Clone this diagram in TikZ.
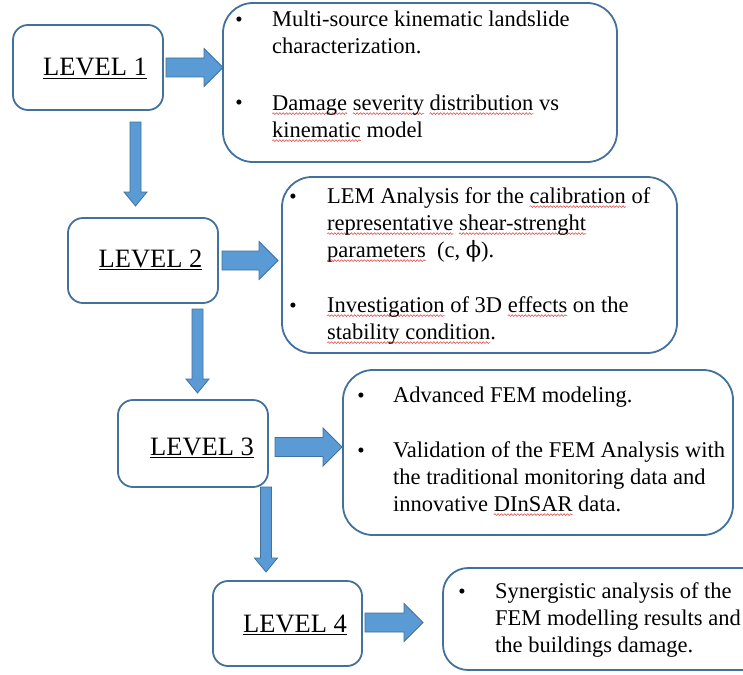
\documentclass[tikz,border=0pt]{standalone}
\usepackage{fontspec}
\setmainfont{Liberation Serif}
\newfontfamily\phifont{DejaVu Serif}
\usetikzlibrary{calc,decorations.pathmorphing}
\definecolor{outl}{HTML}{41719C}
\definecolor{afill}{HTML}{5B9BD5}
\definecolor{sqred}{HTML}{E04848}
\newsavebox\sqbox
\newdimen\sqd
\newcommand\sqw[1]{\sbox\sqbox{#1}\sqd=\wd\sqbox\rlap{\tikz[overlay,x=1pt,y=1pt]\draw[sqred, line width=0.55pt, decorate, decoration={snake, amplitude=0.9pt, segment length=3.3pt}] (0,-3.6) -- (\the\sqd,-3.6);}\usebox\sqbox}
\newcommand\ulv[1]{\sbox\sqbox{#1}\sqd=\wd\sqbox\rlap{\rule[-3.2pt]{\sqd}{1.3pt}}\usebox\sqbox}
\newcommand\harr[2]{%
  \draw[barrow] ($(#1)+(0,-9.5)$) -- ($(#2)+(-19,-9.5)$) -- ($(#2)+(-19,-19)$) -- (#2)
    -- ($(#2)+(-19,19)$) -- ($(#2)+(-19,9.5)$) -- ($(#1)+(0,9.5)$) -- cycle;}
\newcommand\varr[2]{%
  \draw[barrow] ($(#1)+(-5.5,0)$) -- ($(#2)+(-5.5,-14)$) -- ($(#2)+(-11.5,-14)$) -- (#2)
    -- ($(#2)+(11.5,-14)$) -- ($(#2)+(5.5,-14)$) -- ($(#1)+(5.5,0)$) -- cycle;}
\tikzset{
  lvl/.style={draw=outl, line width=1.8pt, rounded corners=15pt, inner sep=0pt},
  big/.style={draw=outl, line width=1.8pt, rounded corners=30pt, inner sep=0pt},
  barrow/.style={fill=afill, draw=outl, line width=0.8pt, line join=miter},
  lvltext/.style={font=\fontsize{26.5}{30}\selectfont, anchor=base, inner sep=0pt},
  body/.style={font=\fontsize{22.5}{27}\selectfont, align=left, anchor=base west, inner sep=0pt},
  bul/.style={font=\fontsize{21}{21}\selectfont, anchor=base, inner sep=0pt}
}
\begin{document}
\begin{tikzpicture}[x=1pt, y=-1pt]
\useasboundingbox (0,0) rectangle (743,674);
\fill[white] (0,0) rectangle (743,674);
\clip (0,0) rectangle (743,674);

% level boxes
\node[lvl, minimum width=150pt, minimum height=85pt] (L1) at (88,67.5) {};
\node[lvl, minimum width=150pt, minimum height=85pt] (L2) at (143,260.5) {};
\node[lvl, minimum width=150pt, minimum height=87pt] (L3) at (193,443.5) {};
\node[lvl, minimum width=149pt, minimum height=85pt] (L4) at (287.5,623.5) {};
\node[lvltext] (t1) at (95,76) {\ulv{LEVEL 1}};
\node[lvltext] (t2) at (150.5,267) {\ulv{LEVEL 2}};
\node[lvltext] (t3) at (202,455) {\ulv{LEVEL 3}};
\node[lvltext] (t4) at (295,632) {\ulv{LEVEL 4}};

% description boxes
\node[big, minimum width=394pt, minimum height=159pt] (B1) at (420,82.5) {};
\node[big, minimum width=395pt, minimum height=176pt] (B2) at (479.5,265) {};
\node[big, minimum width=390pt, minimum height=165pt] (B3) at (538,452.5) {};
\node[big, rounded corners=25pt, minimum width=337pt, minimum height=102pt] (B4) at (611.5,619) {};

% texts box 1 (node base = baseline of the last line)
\node[bul] (b11) at (239,27) {•};
\node[body] (p11) at (272,54) {Multi-source kinematic landslide\\characterization.};
\node[bul] (b12) at (239,110) {•};
\node[body] (p12) at (272,137) {\sqw{Damage} \sqw{severity} \sqw{distribution} vs\\\sqw{kinematic} model};
% texts box 2
\node[bul] (b21) at (293,203) {•};
\node[body] (p21) at (327,257) {LEM Analysis for the \sqw{calibration} of\\\sqw{representative} \sqw{shear-strenght}\\\sqw{parameters}~ (c, {\phifont ϕ}).};
\node[bul] (b22) at (293,312) {•};
\node[body] (p22) at (327,339) {\sqw{Investigation} of 3D \sqw{effects} on the\\\sqw{stability condition}.};
% texts box 3
\node[bul] (b31) at (361,402) {•};
\node[body] (p31) at (393,402) {Advanced FEM modeling.};
\node[bul] (b32) at (361,457) {•};
\node[body] (p32) at (393,511) {Validation of the FEM Analysis with\\the traditional monitoring data and\\innovative \sqw{DInSAR} data.};
% texts box 4
\node[bul] (b41) at (462,598) {•};
\node[body] (p41) at (495,652) {Synergistic analysis of the\\FEM modelling results and\\the buildings damage.};

% arrows
\coordinate (h1s) at (166,67.5);  \coordinate (h1e) at (223,67.5);
\coordinate (h2s) at (222,260.5); \coordinate (h2e) at (278,260.5);
\coordinate (h3s) at (275,447);   \coordinate (h3e) at (342,447);
\coordinate (h4s) at (365,622.5); \coordinate (h4e) at (423,622.5);
\coordinate (v1s) at (135.5,122); \coordinate (v1e) at (135.5,206);
\coordinate (v2s) at (197.5,309); \coordinate (v2e) at (197.5,393);
\coordinate (v3s) at (266,487);   \coordinate (v3e) at (266,572);
\harr{h1s}{h1e}
\harr{h2s}{h2e}
\harr{h3s}{h3e}
\harr{h4s}{h4e}
\varr{v1s}{v1e}
\varr{v2s}{v2e}
\varr{v3s}{v3e}
\end{tikzpicture}
\end{document}
